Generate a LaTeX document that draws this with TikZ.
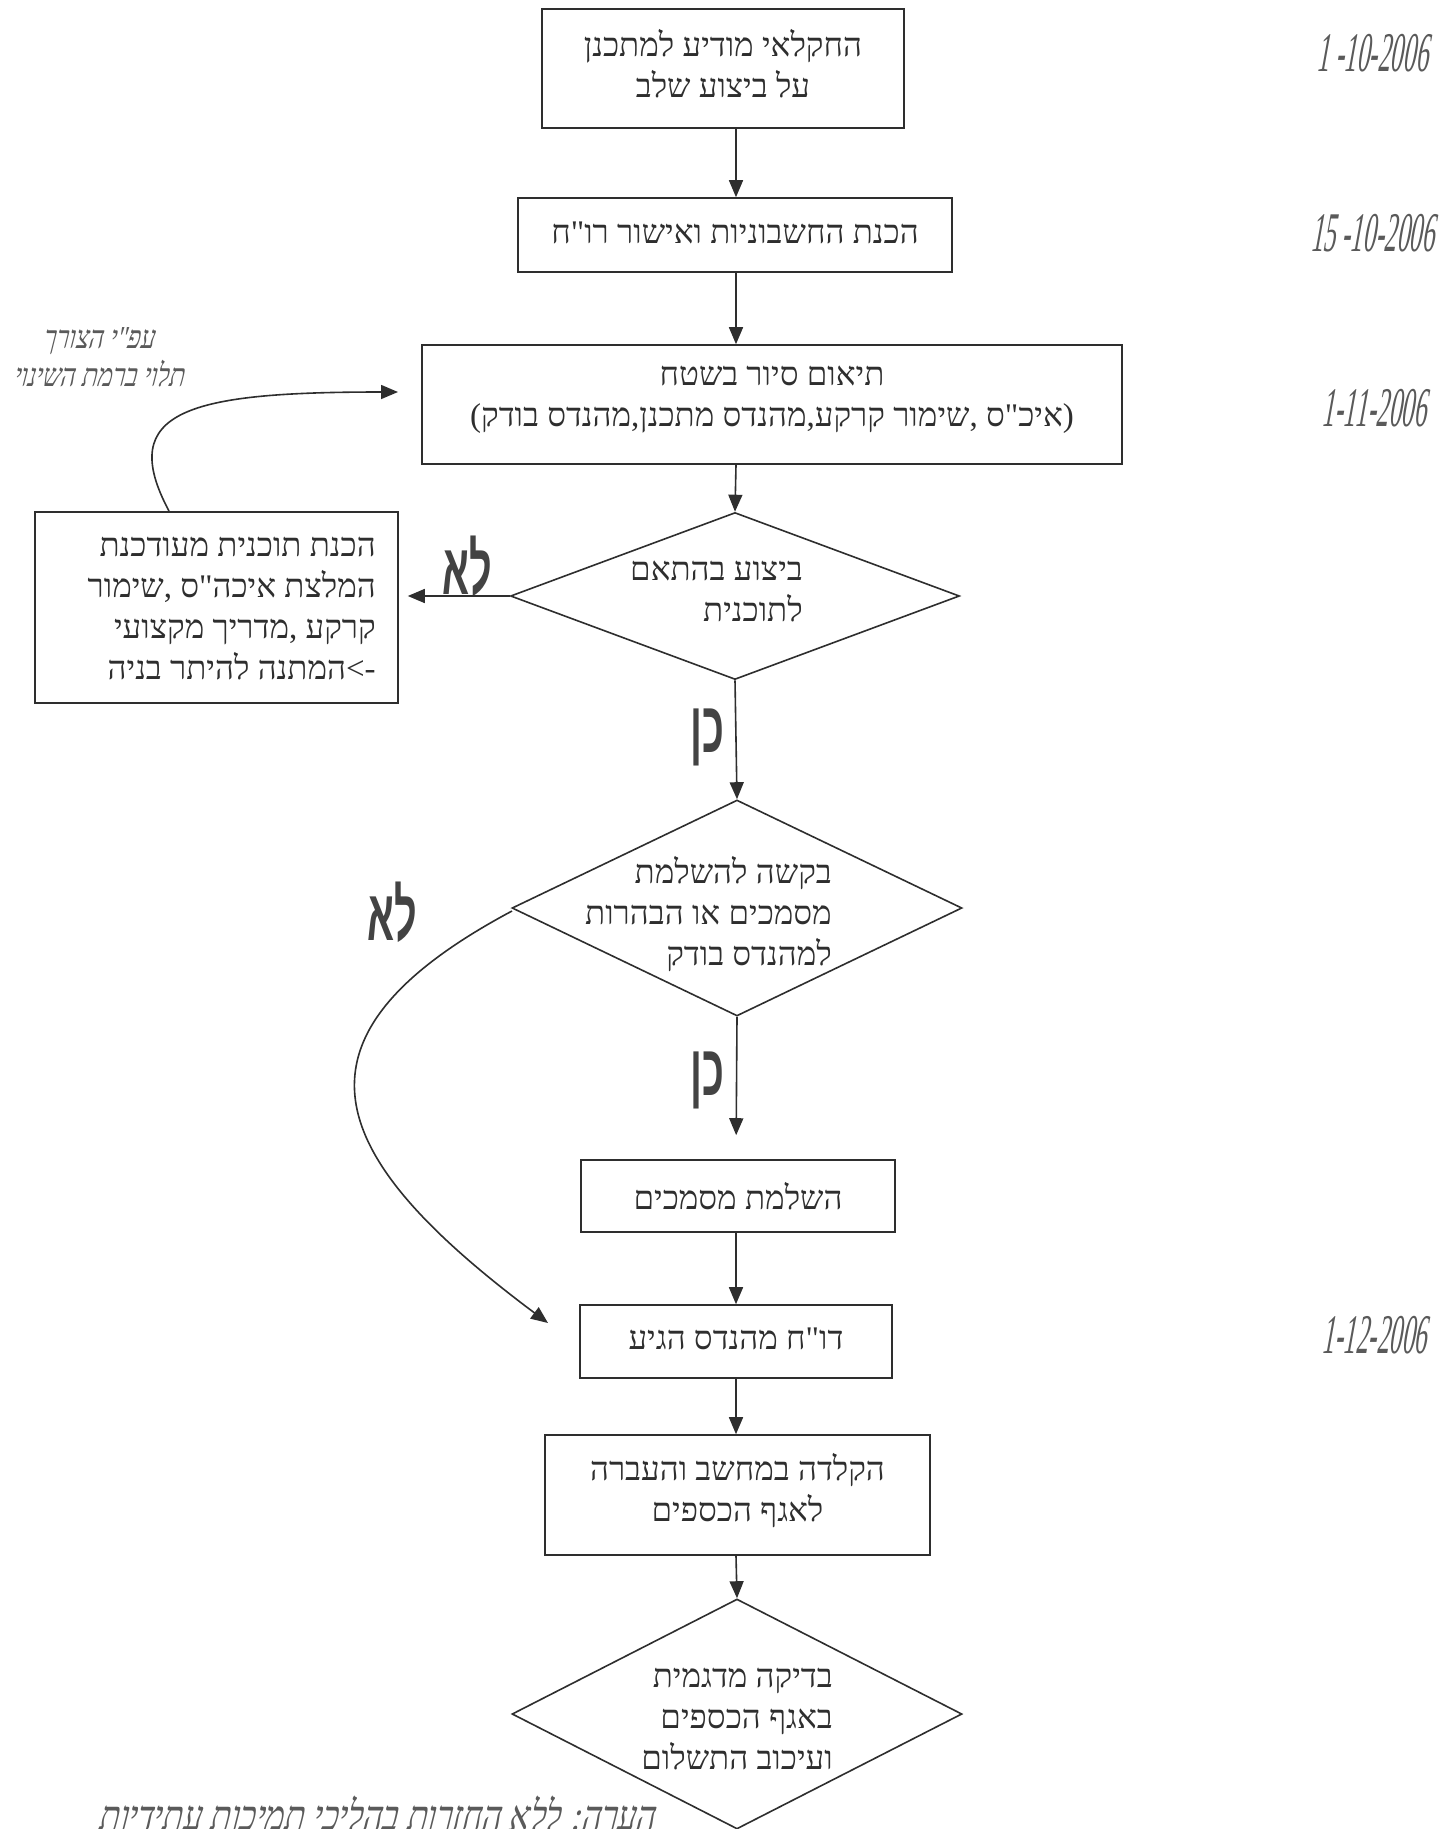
\documentclass[tikz,border=0pt]{standalone}
\usepackage{fontspec}
\usetikzlibrary{shapes.geometric,arrows.meta}
\TeXXeTstate=1
\newfontfamily\heb{Liberation Serif}[Script=Hebrew]
\newfontfamily\yesno{Liberation Sans}[Script=Hebrew,FakeStretch=0.55]
\newfontfamily\hand{Liberation Serif}[Script=Hebrew,FakeSlant=0.25,FakeStretch=0.8]
\newfontfamily\datef{Liberation Serif}[FakeSlant=0.18,FakeStretch=0.45]
\definecolor{ink}{HTML}{2E2E2E}
\definecolor{pencil}{HTML}{5A5A5A}
\newcommand{\R}[1]{\beginR #1\endR}
\tikzset{
  box/.style={draw=ink, line width=1.6pt, rectangle, inner sep=0pt},
  dec/.style={draw=ink, line width=1.6pt, diamond, inner sep=0pt},
  txt/.style={text=ink, font=\heb\fontsize{33}{41}\selectfont, inner sep=0pt},
  arr/.style={draw=ink, line width=1.6pt, -{Triangle[length=17pt,width=14pt]}},
  yn/.style={text=ink!90, font=\yesno\bfseries\fontsize{72}{72}\selectfont, inner sep=0pt},
  note/.style={text=pencil, font=\hand\fontsize{32}{38}\selectfont, inner sep=0pt, align=center},
  datestyle/.style={text=pencil, font=\datef\fontsize{56}{56}\selectfont, inner sep=0pt}
}
\begin{document}
\begin{tikzpicture}[x=1pt,y=-1pt]
\fill[white] (0,0) rectangle (1444,1829);
\useasboundingbox (0,0) rectangle (1444,1829);

% boxes
\node[box, minimum width=362pt, minimum height=119pt] (n1) at (723,68.5) {};
\node[box, minimum width=434pt, minimum height=74pt] (n2) at (735,235) {};
\node[box, minimum width=700pt, minimum height=119pt] (n3) at (772,404.5) {};
\node[dec, minimum width=449pt, minimum height=167pt] (d1) at (735,596) {};
\node[box, minimum width=363pt, minimum height=191pt] (upd) at (216.5,607.5) {};
\node[dec, minimum width=450pt, minimum height=216pt] (d2) at (737,908) {};
\node[box, minimum width=314pt, minimum height=72pt] (n5) at (738,1196) {};
\node[box, minimum width=312pt, minimum height=73pt] (n6) at (736,1341.5) {};
\node[box, minimum width=385pt, minimum height=120pt] (n7) at (737.5,1495) {};
\node[dec, minimum width=450pt, minimum height=230pt] (d3) at (737,1714) {};

% texts
\node[txt, align=center] (t1) at (723,64) {\R{החקלאי מודיע למתכנן}\\\R{על ביצוע שלב}};
\node[txt] (t2) at (735,233) {\R{הכנת החשבוניות ואישור רו"ח}};
\node[txt, align=center] (t3) at (772,400) {\R{תיאום סיור בשטח}\\\R{(איכ"ס ,שימור קרקע,מהנדס מתכנן,מהנדס בודק)}};
\node[txt, align=right, anchor=east] (td1) at (803,591) {\R{ביצוע בהתאם}\\\R{לתוכנית}};
\node[txt, align=right, anchor=east] (tupd) at (376,609) {\R{הכנת תוכנית מעודכנת}\\\R{המלצת איכה"ס ,שימור}\\\R{קרקע ,מדריך מקצועי}\\\R{->המתנה להיתר בניה}};
\node[txt, align=right, anchor=east] (td2) at (832,914) {\R{בקשה להשלמת}\\\R{מסמכים או הבהרות}\\\R{למהנדס בודק}};
\node[txt] (t5) at (738,1196) {\R{השלמת מסמכים}};
\node[txt] (t6) at (736,1339) {\R{דו"ח מהנדס הגיע}};
\node[txt, align=center] (t7) at (737.5,1491) {\R{הקלדה במחשב והעברה}\\\R{לאגף הכספים}};
\node[txt, align=right, anchor=east] (td3) at (833,1719) {\R{בדיקה מדגמית}\\\R{באגף הכספים}\\\R{ועיכוב התשלום}};

% yes / no labels
\node[yn] (no1) at (467,566) {\R{לא}};
\node[yn] (yes1) at (707,737) {\R{כן}};
\node[yn] (no2) at (392,912) {\R{לא}};
\node[yn] (yes2) at (707,1080) {\R{כן}};

% handwritten notes
\node[note] (h1) at (98,357) {\R{עפ"י הצורך}\\\R{תלוי ברמת השינוי}};
\node[note, font=\hand\fontsize{42}{48}\selectfont, anchor=north] (h2) at (376,1796) {\R{הערה: ללא החזרות בהליכי תמיכות עתידיות}};

% dates
\node[datestyle] (dt1) at (1372,53) {1 -10-2006};
\node[datestyle] (dt2) at (1372,233) {15 -10-2006};
\node[datestyle] (dt3) at (1374,408) {1-11-2006};
\node[datestyle] (dt4) at (1374,1335) {1-12-2006};

% connectors
\coordinate (ax) at (736,0);
\draw[arr] (n1.south -| ax) -- (n2.north -| ax);
\draw[arr] (n2.south -| ax) -- (n3.north -| ax);
\draw[arr] (n3.south -| ax) -- (d1.north);
\draw[arr] (d1.south) -- (d2.north);
\draw[arr, shorten >=24pt] (d2.south) -- (n5.north -| ax);
\draw[arr] (n5.south -| ax) -- (n6.north -| ax);
\draw[arr] (n6.south -| ax) -- (n7.north -| ax);
\draw[arr] (n7.south -| ax) -- (d3.north);
\draw[arr, shorten >=9pt] (d1.west) -- (upd.east |- d1.west);

\coordinate (loopend) at (398,392);
\coordinate (loopstart) at (169,511);
\draw[arr] (loopstart) .. controls (115,410) and (190,392) .. (loopend);

\coordinate (nostart) at (512,911);
\coordinate (noend) at (548,1323);
\draw[arr] (nostart) .. controls (270,1040) and (330,1160) .. (noend);
\end{tikzpicture}
\end{document}
